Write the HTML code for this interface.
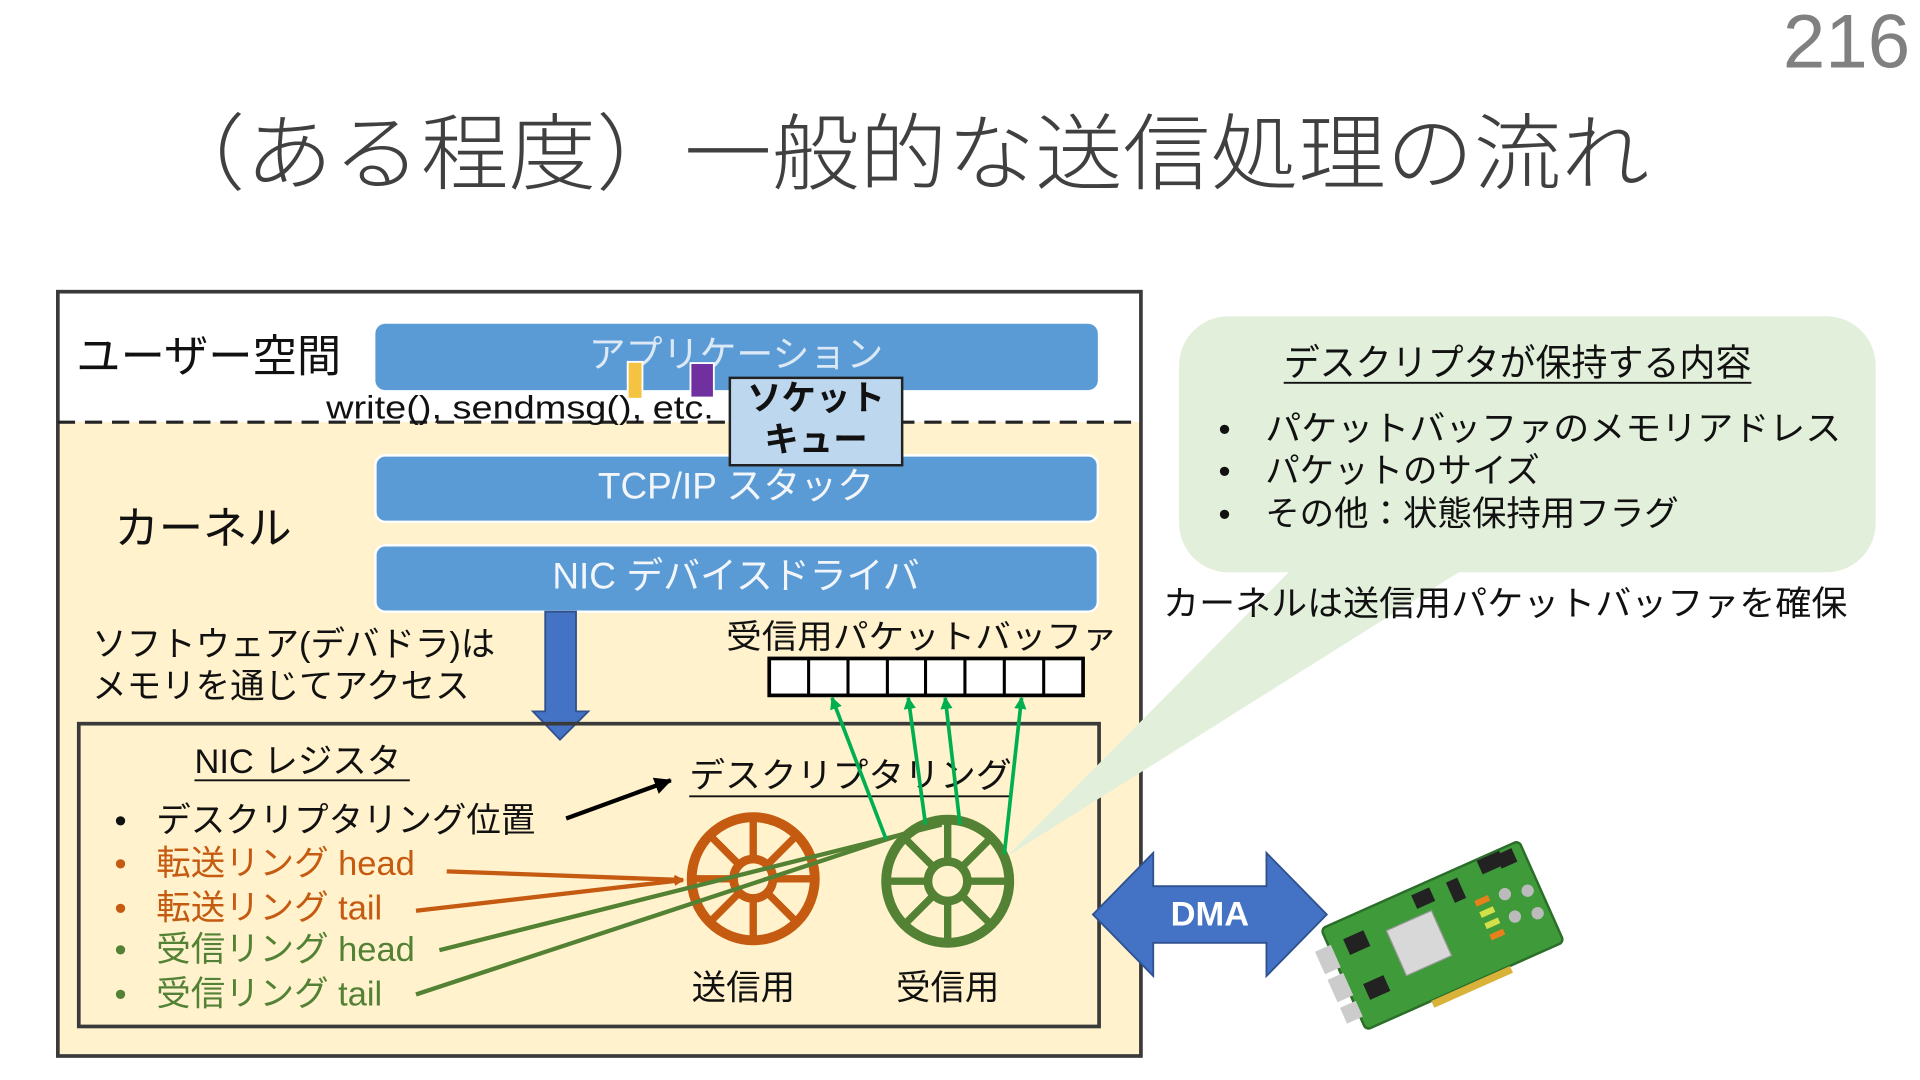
<!DOCTYPE html>
<html><head><meta charset="utf-8"><style>
html,body{margin:0;padding:0;background:#fff;}
svg{display:block;}
text{font-family:"Liberation Sans","Noto Sans CJK JP",sans-serif;dominant-baseline:central;}
</style></head><body>
<svg width="1920" height="1080" viewBox="0 0 1560 877.5" xmlns="http://www.w3.org/2000/svg">
<defs>
<marker id="ao" markerWidth="8" markerHeight="8" refX="7" refY="4" orient="auto" markerUnits="userSpaceOnUse"><path d="M0,0 L8,4 L0,8 z" fill="#c55a11"/></marker>
<marker id="ag" markerWidth="10" markerHeight="10" refX="9" refY="5" orient="auto" markerUnits="userSpaceOnUse"><path d="M0,0 L10,5 L0,10 z" fill="#00b050"/></marker>
<marker id="ak" markerWidth="14" markerHeight="14" refX="13" refY="7" orient="auto" markerUnits="userSpaceOnUse"><path d="M0,0 L14,7 L0,14 z" fill="#000"/></marker>
</defs>
<text x="1552" y="34" font-size="62" fill="#808080" text-anchor="end" font-weight="300">216</text>
<text x="128" y="125" font-size="68" fill="#404040" font-weight="300" textLength="1212" lengthAdjust="spacingAndGlyphs">（ある程度）一般的な送信処理の流れ</text>

<!-- outer box -->
<rect x="47" y="343" width="880" height="515" fill="#fff2cc"/>
<rect x="47" y="237" width="880" height="621" fill="none" stroke="#3a3a3a" stroke-width="3"/>
<line x1="47" y1="343" x2="927" y2="343" stroke="#222" stroke-width="2.5" stroke-dasharray="14,8"/>

<text x="62" y="290" font-size="36" fill="#111">ユーザー空間</text>
<rect x="305" y="263" width="587" height="54" rx="8" fill="#5b9bd5"/>
<text x="598" y="288" font-size="30" fill="#dbe8f6" text-anchor="middle">アプリケーション</text>
<rect x="510" y="294" width="12" height="30" fill="#f5c342" stroke="#fff" stroke-width="1.5"/>
<rect x="561" y="295" width="19" height="28" fill="#7030a0" stroke="#fff" stroke-width="1.5"/>
<text x="265" y="331" font-size="26" fill="#111" textLength="315" lengthAdjust="spacingAndGlyphs">write(), sendmsg(), etc.</text>

<rect x="305" y="370" width="587" height="54" rx="8" fill="#5b9bd5" stroke="#fff" stroke-width="2"/>
<text x="598" y="395" font-size="30" fill="#f2f6fb" text-anchor="middle">TCP/IP スタック</text>
<rect x="305" y="443" width="587" height="54" rx="8" fill="#5b9bd5" stroke="#fff" stroke-width="2"/>
<text x="598" y="468" font-size="30" fill="#f2f6fb" text-anchor="middle">NIC デバイスドライバ</text>
<text x="93" y="430" font-size="36" fill="#111">カーネル</text>

<rect x="593" y="307" width="140" height="71" fill="#bdd7ee" stroke="#222" stroke-width="2"/>
<text x="663" y="324" font-size="28" font-weight="bold" fill="#111" text-anchor="middle">ソケット</text>
<text x="663" y="358" font-size="28" font-weight="bold" fill="#111" text-anchor="middle">キュー</text>

<path d="M443,497 L468,497 L468,578 L478,578 L455,601 L433,578 L443,578 Z" fill="#4472c4" stroke="#2f528f" stroke-width="1.5"/>
<text x="75" y="524" font-size="28" fill="#111">ソフトウェア(デバドラ)は</text>
<text x="75" y="558" font-size="28" fill="#111">メモリを通じてアクセス</text>

<text x="590" y="518" font-size="27" fill="#111" textLength="318" lengthAdjust="spacingAndGlyphs">受信用パケットバッファ</text>
<rect x="625" y="535" width="255" height="30" fill="#fff" stroke="#000" stroke-width="3"/>
<g stroke="#000" stroke-width="2.5">
<line x1="657" y1="535" x2="657" y2="565"/><line x1="689" y1="535" x2="689" y2="565"/><line x1="721" y1="535" x2="721" y2="565"/><line x1="752" y1="535" x2="752" y2="565"/><line x1="784" y1="535" x2="784" y2="565"/><line x1="816" y1="535" x2="816" y2="565"/><line x1="848" y1="535" x2="848" y2="565"/>
</g>

<rect x="64" y="588" width="829" height="246" fill="none" stroke="#3a3a3a" stroke-width="3"/>
<text x="158" y="619" font-size="28" fill="#111">NIC レジスタ</text>
<line x1="158" y1="634" x2="333" y2="634" stroke="#111" stroke-width="1.5"/>
<g font-size="28">
<text x="93" y="667" fill="#111">•</text><text x="127" y="667" fill="#111">デスクリプタリング位置</text>
<text x="93" y="702" fill="#c55a11">•</text><text x="127" y="702" fill="#c55a11">転送リング head</text>
<text x="93" y="738" fill="#c55a11">•</text><text x="127" y="738" fill="#c55a11">転送リング tail</text>
<text x="93" y="772" fill="#538135">•</text><text x="127" y="772" fill="#538135">受信リング head</text>
<text x="93" y="808" fill="#538135">•</text><text x="127" y="808" fill="#538135">受信リング tail</text>
</g>
<line x1="460" y1="665" x2="545" y2="634" stroke="#000" stroke-width="3.5" marker-end="url(#ak)"/>
<text x="560" y="631" font-size="28" fill="#111" textLength="262" lengthAdjust="spacingAndGlyphs">デスクリプタリング</text>
<line x1="560" y1="647" x2="822" y2="647" stroke="#111" stroke-width="1.5"/>

<!-- callout -->
<path d="M1050,462 L1190,462 L818,696 Z" fill="#e2efda"/>
<rect x="958" y="257" width="566" height="208" rx="40" fill="#e2efda"/>

<!-- wheels -->
<g stroke="#c55a11" fill="none" stroke-width="8">
<circle cx="612" cy="714" r="50"/><circle cx="612" cy="714" r="16" stroke-width="7"/>
<path d="M612,664 V698 M612,730 V764 M562,714 H596 M628,714 H662 M577,679 L601,703 M623,725 L647,749 M647,679 L623,703 M601,725 L577,749" stroke-width="6"/>
</g>
<g stroke="#548235" fill="none" stroke-width="8">
<circle cx="770" cy="716" r="50"/><circle cx="770" cy="716" r="16" stroke-width="7"/>
<path d="M770,666 V700 M770,732 V766 M720,716 H754 M786,716 H820 M735,681 L759,705 M781,727 L805,751 M805,681 L781,705 M759,727 L735,751" stroke-width="6"/>
</g>
<line x1="363" y1="708" x2="555" y2="715" stroke="#c55a11" stroke-width="3.5" marker-end="url(#ao)"/>
<line x1="338" y1="740" x2="555" y2="715" stroke="#c55a11" stroke-width="3.5" marker-end="url(#ao)"/>
<line x1="357" y1="772" x2="765" y2="670" stroke="#548235" stroke-width="3.5"/>
<line x1="338" y1="808" x2="775" y2="664" stroke="#548235" stroke-width="3.5"/>
<g stroke="#00b050" stroke-width="3" marker-end="url(#ag)">
<line x1="720" y1="682" x2="676" y2="567"/>
<line x1="752" y1="670" x2="738" y2="567"/>
<line x1="780" y1="670" x2="768" y2="567"/>
<line x1="816" y1="694" x2="830" y2="567"/>
</g>
<text x="604" y="803" font-size="28" fill="#111" text-anchor="middle">送信用</text>
<text x="770" y="803" font-size="28" fill="#111" text-anchor="middle">受信用</text>

<!-- DMA -->
<path d="M888,743 L937,693 L937,720 L1029,720 L1029,693 L1078,743 L1029,793 L1029,766 L937,766 L937,793 Z" fill="#4472c4" stroke="#2f528f" stroke-width="1.5"/>
<text x="983" y="743" font-size="28" font-weight="bold" fill="#fff" text-anchor="middle">DMA</text>

<!-- NIC card -->
<g transform="translate(1172,760) rotate(-24)">
<rect x="-88" y="-45" width="176" height="90" rx="4" fill="#3f9a3a" stroke="#2b6e2a" stroke-width="2"/>
<rect x="-40" y="-22" width="40" height="40" fill="#d8d8d8" stroke="#999"/>
<rect x="-100" y="-30" width="14" height="20" fill="#ccc"/><rect x="-100" y="-5" width="14" height="20" fill="#ccc"/><rect x="-100" y="20" width="14" height="14" fill="#ccc"/>
<rect x="-75" y="-30" width="18" height="14" fill="#222"/><rect x="-75" y="10" width="18" height="14" fill="#222"/>
<rect x="-10" y="-40" width="16" height="12" fill="#222"/><rect x="20" y="-38" width="10" height="18" fill="#222"/>
<rect x="50" y="-44" width="20" height="12" fill="#222"/><rect x="66" y="-42" width="14" height="12" fill="#222"/>
<rect x="35" y="-15" width="12" height="5" fill="#e8801c"/><rect x="35" y="-5" width="12" height="5" fill="#d4e04a"/><rect x="35" y="5" width="12" height="5" fill="#d4e04a"/><rect x="35" y="15" width="12" height="5" fill="#e8801c"/>
<circle cx="60" cy="-10" r="5" fill="#bbb"/><circle cx="60" cy="10" r="5" fill="#bbb"/><circle cx="78" cy="-5" r="5" fill="#bbb"/><circle cx="78" cy="15" r="5" fill="#bbb"/>
<rect x="-30" y="45" width="70" height="6" fill="#d9b23a"/>
</g>

<!-- callout text -->
<text x="1043" y="295" font-size="30" fill="#111" textLength="380" lengthAdjust="spacingAndGlyphs">デスクリプタが保持する内容</text>
<line x1="1043" y1="311" x2="1423" y2="311" stroke="#111" stroke-width="1.5"/>
<g font-size="28" fill="#111">
<text x="990" y="349">•</text><text x="1028" y="349" textLength="468" lengthAdjust="spacingAndGlyphs">パケットバッファのメモリアドレス</text>
<text x="990" y="383">•</text><text x="1028" y="383">パケットのサイズ</text>
<text x="990" y="418">•</text><text x="1028" y="418">その他：状態保持用フラグ</text>
</g>
<text x="945" y="491" font-size="28" fill="#111" textLength="556" lengthAdjust="spacingAndGlyphs">カーネルは送信用パケットバッファを確保</text>
</svg>
</body></html>
